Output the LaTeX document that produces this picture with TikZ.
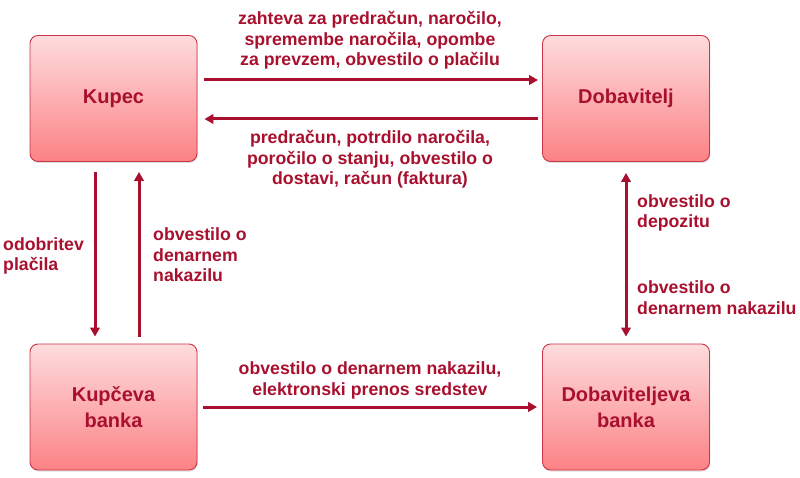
\documentclass[tikz,border=0pt]{standalone}
\usepackage{fontspec}
\setmainfont{Liberation Sans}
\usetikzlibrary{arrows.meta,shadows}
\definecolor{txtred}{RGB}{168,16,46}
\definecolor{boxborder}{RGB}{204,52,72}
\definecolor{boxtop}{RGB}{253,220,222}
\definecolor{boxbot}{RGB}{252,130,133}
\tikzset{
  party/.style={draw=boxborder, line width=0.9pt, rounded corners=8pt,
    top color=boxtop, bottom color=boxbot,
    minimum width=167pt, minimum height=126pt, inner sep=0pt,
    align=center, text=txtred, font=\fontsize{20}{26}\selectfont\bfseries,
    drop shadow={shadow xshift=0.8pt, shadow yshift=-1.5pt, opacity=0.25}},
  flow/.style={draw=txtred, line width=3pt, -{Triangle[length=9pt,width=9.5pt]}},
  bflow/.style={draw=txtred, line width=3pt, {Triangle[length=9pt,width=9.5pt]}-{Triangle[length=9pt,width=9.5pt]}},
  lbl/.style={text=txtred, font=\fontsize{17.7}{20.6}\selectfont\bfseries, inner sep=0pt}
}
\begin{document}
\begin{tikzpicture}[x=1pt,y=-1pt]
\useasboundingbox (0,0) rectangle (800,478);
\node[party] (kupec) at (113.5,98.5) {Kupec};
\node[party] (dob) at (626,98.5) {Dobavitelj};
\node[party] (kbanka) at (113.5,407) {Kupčeva\\banka};
\node[party] (dbanka) at (626,407) {Dobaviteljeva\\banka};

\draw[flow] ([xshift=7pt,yshift=18.5pt]kupec.east) -- ([xshift=-4pt,yshift=18.5pt]dob.west);
\draw[flow] ([xshift=-4pt,yshift=-20.5pt]dob.west) -- ([xshift=7pt,yshift=-20.5pt]kupec.east);
\draw[flow] ([xshift=6pt]kbanka.east) -- ([xshift=-5pt]dbanka.west);
\draw[flow] ([xshift=-18.5pt,yshift=-10pt]kupec.south) -- ([xshift=-18.5pt,yshift=7pt]kbanka.north);
\draw[flow] ([xshift=25.5pt,yshift=7pt]kbanka.north) -- ([xshift=25.5pt,yshift=-10pt]kupec.south);
\draw[bflow] ([yshift=-11pt]dob.south) -- ([yshift=7pt]dbanka.north);

\node[lbl, align=center, anchor=base] (l1) at (370,66) {zahteva za predračun, naročilo,\\spremembe naročila, opombe\\za prevzem, obvestilo o plačilu};
\node[lbl, align=center, anchor=base] (l2) at (370,185) {predračun, potrdilo naročila,\\poročilo o stanju, obvestilo o\\dostavi, račun (faktura)};
\node[lbl, align=center, anchor=base] (l3) at (370,395.5) {obvestilo o denarnem nakazilu,\\elektronski prenos sredstev};
\node[lbl, align=left, anchor=base west] (l4) at (3,271) {odobritev\\plačila};
\node[lbl, align=left, anchor=base west] (l5) at (153,282) {obvestilo o\\denarnem\\nakazilu};
\node[lbl, align=left, anchor=base west] (l6) at (637,228) {obvestilo o\\depozitu};
\node[lbl, align=left, anchor=base west] (l7) at (637,314) {obvestilo o\\denarnem nakazilu};
\end{tikzpicture}
\end{document}
